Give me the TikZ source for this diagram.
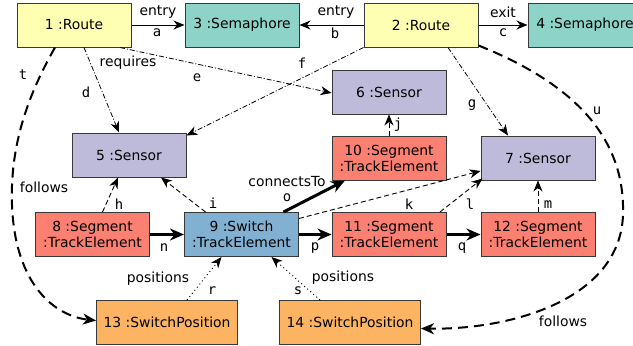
\documentclass[tikz,border=0pt]{standalone}
\usepackage{fontspec}
\setmainfont{DejaVu Sans}
\newfontfamily\monolbl{DejaVu Sans Mono}
\usetikzlibrary{arrows.meta}
\definecolor{routec}{HTML}{FFFFB3}
\definecolor{semc}{HTML}{8DD3C7}
\definecolor{sensc}{HTML}{BEBADA}
\definecolor{segc}{HTML}{FB8072}
\definecolor{switchc}{HTML}{80B1D3}
\definecolor{posc}{HTML}{FDB462}
\definecolor{framec}{HTML}{383838}
\tikzset{
  obj/.style={draw=framec, line width=1pt, minimum width=114pt, minimum height=44pt,
    inner sep=0pt, align=center, font=\fontsize{13.9}{16}\selectfont},
  route/.style={obj, fill=routec},
  sema/.style={obj, fill=semc},
  sensor/.style={obj, fill=sensc},
  seg/.style={obj, fill=segc},
  switchbox/.style={obj, fill=switchc},
  posbox/.style={obj, fill=posc, minimum width=141pt},
  rolelbl/.style={inner sep=0pt, font=\fontsize{13.9}{16}\selectfont},
  idlbl/.style={inner sep=0pt, font=\monolbl\fontsize{13.9}{16}\selectfont},
  thin/.style={line width=1pt, -{Stealth[length=11pt,width=9pt,inset=3.5pt]}},
  heavy/.style={line width=3pt, -{Stealth[length=14pt,width=12pt,inset=4.5pt]}},
  dashdot/.style={line width=0.8pt, dash pattern=on 5pt off 2pt on 1pt off 2pt,
    -{Stealth[length=11pt,width=9pt,inset=3.5pt]}},
  shortdash/.style={line width=0.9pt, dash pattern=on 5pt off 3pt,
    -{Stealth[length=11pt,width=9pt,inset=3.5pt]}},
  longdash/.style={line width=2pt, dash pattern=on 10pt off 6pt,
    -{Stealth[length=13pt,width=11pt,inset=4pt]}},
  dotline/.style={line width=0.9pt, dash pattern=on 1pt off 3pt,
    -{Stealth[length=11pt,width=9pt,inset=3.5pt]}},
}
\begin{document}
\begin{tikzpicture}[x=1pt, y=-1pt]
\useasboundingbox (0,0) rectangle (633,346);

% objects
\node[route] (r1) at (74,25) {1 :Route};
\node[sema] (m3) at (242,25) {3 :Semaphore};
\node[route] (r2) at (421,25) {2 :Route};
\node[sema] (m4) at (585,25) {4 :Semaphore};
\node[sensor] (s6) at (389,92) {6 :Sensor};
\node[sensor] (s5) at (129,155) {5 :Sensor};
\node[seg] (e10) at (389,158) {10 :Segment\\:TrackElement};
\node[sensor] (s7) at (538,158) {7 :Sensor};
\node[seg] (e8) at (92.5,234.5) {8 :Segment\\:TrackElement};
\node[switchbox] (w9) at (241.5,234.5) {9 :Switch\\:TrackElement};
\node[seg] (e11) at (389,234.5) {11 :Segment\\:TrackElement};
\node[seg] (e12) at (538,234.5) {12 :Segment\\:TrackElement};
\node[posbox] (p13) at (167,322.5) {13 :SwitchPosition};
\node[posbox] (p14) at (350,322.5) {14 :SwitchPosition};

% semaphore references
\draw[thin] (r1.east) -- (m3.west);
\draw[thin] (r2.west) -- (m3.east);
\draw[thin] (r2.east) -- (m4.west);

% required sensors
\draw[dashdot] ([xshift=10pt]r1.south) -- ([xshift=-10pt]s5.north);
\draw[dashdot] ([xshift=46pt]r1.south) -- ([yshift=-1pt]s6.west);
\draw[dashdot] (r2.south west) -- ([yshift=-3pt]s5.north east);
\draw[dashdot] ([xshift=27pt]r2.south) -- ([xshift=-30pt]s7.north);

% follows
\draw[longdash] ([xshift=-19pt]r1.south) .. controls (25,100) and (10,150) .. (12,205)
  .. controls (15,285) and (55,316) .. ([yshift=2pt]p13.west);
\draw[longdash] ([yshift=2pt]r2.south east) .. controls (590,90) and (625,150) .. (623,215)
  .. controls (620,300) and (510,330) .. ([yshift=-6pt]p14.east);

% monitored sensors
\draw[shortdash] ([xshift=10pt]e8.north) -- ([xshift=-11pt]s5.south);
\draw[shortdash] ([xshift=-36pt]w9.north) -- ([xshift=32pt]s5.south);
\draw[shortdash] (e10.north) -- (s6.south);
\draw[shortdash] ([yshift=16pt]w9.east) -- ([yshift=-13pt]s7.west);
\draw[shortdash] ([xshift=51pt]e11.north) -- ([xshift=2pt,yshift=2pt]s7.south west);
\draw[shortdash] (e12.north) -- (s7.south);

% track connections
\draw[heavy] ([xshift=42pt]w9.north) -- ([xshift=-44pt]e10.south);
\draw[heavy] (e8.east) -- (w9.west);
\draw[heavy] (w9.east) -- (e11.west);
\draw[heavy] (e11.east) -- (e12.west);

% switch positions
\draw[dotline] ([xshift=20pt]p13.north) -- ([xshift=-20pt]w9.south);
\draw[dotline] ([xshift=-30pt]p14.north) -- ([xshift=30pt]w9.south);

% role names
\node[rolelbl] (ta) at (158,12) {entry};
\node[rolelbl] (tb) at (336,12) {entry};
\node[rolelbl] (tc) at (503,12) {exit};
\node[rolelbl] (td) at (128,63) {requires};
\node[rolelbl] (tt) at (44,187) {follows};
\node[rolelbl] (tu) at (563,321) {follows};
\node[rolelbl] (to) at (287,182) {connectsTo};
\node[rolelbl] (tr) at (158,279) {positions};
\node[rolelbl] (ts) at (343,278) {positions};

% link identifiers
\node[idlbl] (la) at (157,33) {a};
\node[idlbl] (lb) at (335,33) {b};
\node[idlbl] (lc) at (503,33) {c};
\node[idlbl] (ld) at (86,92) {d};
\node[idlbl] (le) at (197,78) {e};
\node[idlbl] (lf) at (302,63) {f};
\node[idlbl] (lg) at (472,105) {g};
\node[idlbl] (lt) at (23,75) {t};
\node[idlbl] (lu) at (597,111) {u};
\node[idlbl] (lh) at (119,204) {h};
\node[idlbl] (li) at (213,203) {i};
\node[idlbl] (lj) at (398,125) {j};
\node[idlbl] (lo) at (287,198) {o};
\node[idlbl] (lk) at (409,204) {k};
\node[idlbl] (ll) at (470,204) {l};
\node[idlbl] (lm) at (548,205) {m};
\node[idlbl] (ln) at (164,248) {n};
\node[idlbl] (lp) at (315,248) {p};
\node[idlbl] (lq) at (462,248) {q};
\node[idlbl] (lr) at (212,291) {r};
\node[idlbl] (ls) at (298,291) {s};
\end{tikzpicture}
\end{document}
